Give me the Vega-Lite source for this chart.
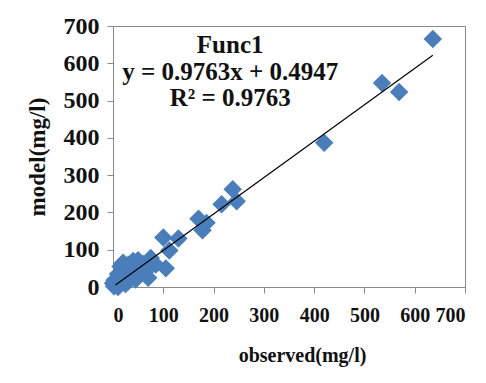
{
  "$schema": "https://vega.github.io/schema/vega-lite/v6.json",
  "width": 352,
  "height": 261,
  "autosize": {"type": "none"},
  "padding": {"left": 113, "top": 26, "right": 21, "bottom": 96},
  "background": "white",
  "config": {
    "view": {"stroke": "#888888", "strokeWidth": 1},
    "axis": {
      "grid": false,
      "domainColor": "#888888",
      "tickColor": "#888888",
      "tickSize": 6,
      "labelOverlap": false,
      "labelFont": "Liberation Serif",
      "labelFontWeight": "bold",
      "labelColor": "#111111",
      "titleFont": "Liberation Serif",
      "titleFontWeight": "bold",
      "titleColor": "#111111"
    }
  },
  "datasets": {
    "pts": [
      {"observed": 636, "model": 665},
      {"observed": 535, "model": 547},
      {"observed": 569, "model": 523},
      {"observed": 420, "model": 387},
      {"observed": 238, "model": 262},
      {"observed": 216, "model": 222},
      {"observed": 246, "model": 230},
      {"observed": 170, "model": 183},
      {"observed": 178, "model": 152},
      {"observed": 186, "model": 172},
      {"observed": 130, "model": 130},
      {"observed": 100, "model": 133},
      {"observed": 112, "model": 98},
      {"observed": 105, "model": 50},
      {"observed": 75, "model": 78},
      {"observed": 60, "model": 62},
      {"observed": 50, "model": 72},
      {"observed": 40, "model": 70},
      {"observed": 35, "model": 45},
      {"observed": 30, "model": 60},
      {"observed": 25, "model": 30},
      {"observed": 20, "model": 42},
      {"observed": 18, "model": 20},
      {"observed": 15, "model": 55},
      {"observed": 12, "model": 25},
      {"observed": 10, "model": 35},
      {"observed": 8, "model": 12},
      {"observed": 5, "model": 5},
      {"observed": 3, "model": 18},
      {"observed": 2, "model": 2},
      {"observed": 45, "model": 20},
      {"observed": 55, "model": 35},
      {"observed": 65, "model": 42},
      {"observed": 85, "model": 60},
      {"observed": 25, "model": 8},
      {"observed": 10, "model": 0},
      {"observed": 0, "model": 10},
      {"observed": 30, "model": 15},
      {"observed": 20, "model": 65},
      {"observed": 45, "model": 50},
      {"observed": 70, "model": 25}
    ],
    "fit": [
      {"observed": 5, "model": 5.4},
      {"observed": 636, "model": 621.4}
    ],
    "labels": [
      {"label": "Func1", "observed": 233, "model": 650},
      {"label": "y = 0.9763x + 0.4947", "observed": 233, "model": 577},
      {"label": "R² = 0.9763", "observed": 233, "model": 506}
    ]
  },
  "encoding": {
    "x": {"field": "observed", "type": "quantitative", "scale": {"domain": [0, 700], "nice": false},
          "axis": {"values": [0, 100, 200, 300, 400, 500, 600, 700], "labelOverlap": false, "title": "observed(mg/l)", "labelFontSize": 20, "titleFontSize": 20, "labelPadding": 12, "titlePadding": 20, "titleX": 189}},
    "y": {"field": "model", "type": "quantitative", "scale": {"domain": [0, 700], "nice": false},
          "axis": {"values": [0, 100, 200, 300, 400, 500, 600, 700], "labelOverlap": false, "title": "model(mg/l)", "labelFontSize": 24, "titleFontSize": 23, "labelPadding": 8, "titlePadding": 14}}
  },
  "layer": [
    {
      "data": {"name": "pts"},
      "mark": {"type": "point", "shape": "diamond", "filled": true, "size": 340, "color": "#4A7EBB", "opacity": 1}
    },
    {
      "data": {"name": "fit"},
      "mark": {"type": "line", "color": "#000000", "strokeWidth": 1.2}
    },
    {
      "data": {"name": "labels"},
      "mark": {"type": "text", "font": "Liberation Serif", "fontWeight": "bold", "fontSize": 25, "align": "center", "baseline": "middle", "color": "#111111"},
      "encoding": {
        "text": {"field": "label"}
      }
    }
  ]
}
